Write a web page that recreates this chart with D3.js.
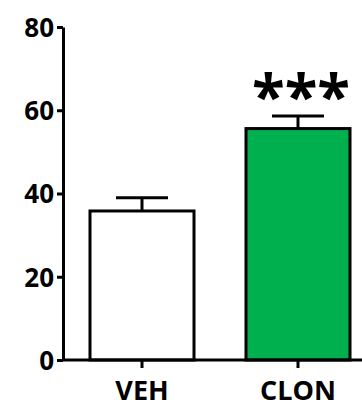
<!DOCTYPE html>
<html>
<head>
<meta charset="utf-8">
<script src="https://cdn.jsdelivr.net/npm/d3@7"></script>
<style>
  body { margin: 0; background: #fff; }
  text { font-family: "Open Sans", "Liberation Sans", sans-serif; font-weight: bold; }
</style>
</head>
<body>
<svg width="362" height="407"></svg>
<script>
var groups = ["VEH", "CLON"];
var means = [35.8, 55.6];
var errors = [3.2, 3.0];
var fills = ["#ffffff", "#00b04f"];
var yTicks = [0, 20, 40, 60, 80];
var sigLabels = ["", "***"];

var svg = d3.select("svg");

var y = d3.scaleLinear().domain([0, 80]).range([360, 27]);
var x = d3.scaleBand().domain(groups).range([90, 350]).paddingInner(1 / 3).paddingOuter(0);

// y axis
var yAxis = svg.append("g")
    .attr("transform", "translate(63,0)")
    .call(d3.axisLeft(y).tickValues(yTicks).tickSize(6).tickSizeOuter(0));
yAxis.select(".domain").attr("stroke-width", 3);
yAxis.selectAll(".tick line").attr("stroke-width", 3);
yAxis.selectAll(".tick text")
    .attr("font-size", 26)
    .attr("fill", "#000")
    .attr("x", -9)
    .attr("dy", "0.36em");

// bars
svg.selectAll(".bar")
    .data(groups)
    .enter().append("rect")
    .attr("class", "bar")
    .attr("x", function(d) { return x(d); })
    .attr("y", function(d, i) { return y(means[i]); })
    .attr("width", x.bandwidth())
    .attr("height", function(d, i) { return y(0) - y(means[i]); })
    .attr("fill", function(d, i) { return fills[i]; })
    .attr("stroke", "#000")
    .attr("stroke-width", 3);

// error bars
var eb = svg.selectAll(".err")
    .data(groups)
    .enter().append("g")
    .attr("class", "err");
eb.append("line")
    .attr("x1", function(d) { return x(d) + x.bandwidth() / 2; })
    .attr("x2", function(d) { return x(d) + x.bandwidth() / 2; })
    .attr("y1", function(d, i) { return y(means[i]); })
    .attr("y2", function(d, i) { return y(means[i] + errors[i]); })
    .attr("stroke", "#000").attr("stroke-width", 3);
eb.append("line")
    .attr("x1", function(d) { return x(d) + x.bandwidth() / 2 - 26; })
    .attr("x2", function(d) { return x(d) + x.bandwidth() / 2 + 26; })
    .attr("y1", function(d, i) { return y(means[i] + errors[i]); })
    .attr("y2", function(d, i) { return y(means[i] + errors[i]); })
    .attr("stroke", "#000").attr("stroke-width", 3);

// x axis
var xAxis = svg.append("g")
    .attr("transform", "translate(0,360)")
    .call(d3.axisBottom(x).tickSize(8).tickSizeOuter(0));
xAxis.select(".domain").attr("d", "M63,0H362").attr("stroke-width", 3);
xAxis.selectAll(".tick line").attr("stroke-width", 3);
xAxis.selectAll(".tick text")
    .attr("font-size", 27)
    .attr("fill", "#000")
    .attr("y", 40)
    .attr("dy", 0);

// significance stars
svg.selectAll(".sig")
    .data(groups)
    .enter().append("text")
    .attr("class", "sig")
    .attr("x", function(d) { return x(d) + x.bandwidth() / 2 + 3; })
    .attr("y", function(d, i) { return y(means[i] + errors[i]) + 2; })
    .attr("text-anchor", "middle")
    .attr("font-size", 60)
    .text(function(d, i) { return sigLabels[i]; });
</script>
</body>
</html>
